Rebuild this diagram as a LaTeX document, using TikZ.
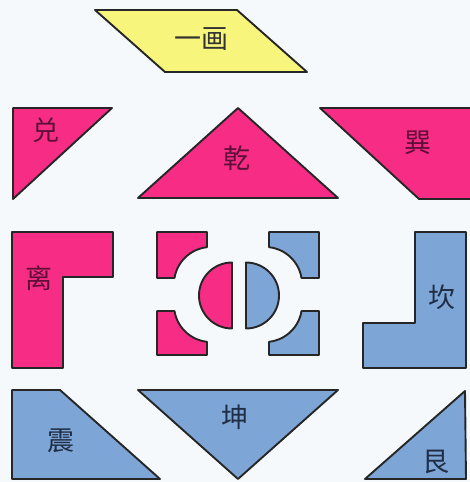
\documentclass[tikz,border=0pt]{standalone}
\usepackage{fontspec}
\newfontfamily\cjk{Noto Sans CJK SC}
\definecolor{bgc}{HTML}{F6F9FB}
\definecolor{pinkc}{HTML}{F72D85}
\definecolor{bluec}{HTML}{7DA5D6}
\definecolor{yelc}{HTML}{F7F57C}
\definecolor{pinktxt}{HTML}{5E0F38}
\definecolor{bluetxt}{HTML}{1F2D45}
\begin{document}
\begin{tikzpicture}[x=1pt,y=1pt,
  shp/.style={draw=black!85, line width=1.9pt, line join=round},
  pk/.style={shp, fill=pinkc},
  bl/.style={shp, fill=bluec},
  yl/.style={shp, fill=yelc},
  lbl/.style={font=\cjk\fontsize{27}{27}\selectfont, inner sep=0pt},
  plbl/.style={lbl, text=pinktxt},
  blbl/.style={lbl, text=bluetxt}]
\fill[bgc] (0,0) rectangle (470,482);
\useasboundingbox (0,0) rectangle (470,482);
% top parallelogram
\draw[yl] (95,472) -- (237,472) -- (307,410) -- (165,410) -- cycle;
\node[lbl, text=black!80] (yihua) at (201,443) {一画};
% row 2
\draw[pk] (13,374) -- (112,374) -- (13,283) -- cycle;
\node[plbl] (dui) at (46,352) {兑};
\draw[pk] (238,374) -- (338,284) -- (138,284) -- cycle;
\node[plbl] (qian) at (237,324) {乾};
\draw[pk] (320,374) -- (474,374) -- (474,283) -- (419,283) -- cycle;
\node[plbl] (xun) at (418,339) {巽};
% row 3
\draw[pk] (12,250) -- (113,250) -- (113,205) -- (63,205) -- (63,114) -- (12,114) -- cycle;
\node[plbl] (li) at (39,204) {离};
\draw[bl] (415,250) -- (466,250) -- (466,114) -- (363,114) -- (363,159) -- (415,159) -- cycle;
\node[blbl] (kan) at (442,185) {坎};
% center pieces
\draw[pk] (157,250) -- (207,250) -- (207,234.8) arc[start angle=96.2, end angle=170.7, radius=37] -- (157,204) -- cycle;
\draw[pk] (157,171) -- (174.5,171) arc[start angle=189.3, end angle=263.8, radius=37] -- (207,127) -- (157,127) -- cycle;
\draw[bl] (319,250) -- (269,250) -- (269,234.8) arc[start angle=83.8, end angle=9.3, radius=37] -- (319,204) -- cycle;
\draw[bl] (269,127) -- (269,140.2) arc[start angle=276.2, end angle=350.7, radius=37] -- (319,171) -- (319,127) -- cycle;
\draw[pk] (232,219.5) arc[start angle=90, end angle=270, radius=33] -- cycle;
\draw[bl] (246,153.5) arc[start angle=-90, end angle=90, radius=33] -- cycle;
% row 4
\draw[bl] (12,92) -- (60,92) -- (160,3) -- (12,3) -- cycle;
\node[blbl] (zhen) at (61,41) {震};
\draw[bl] (138,92) -- (338,92) -- (238,3) -- cycle;
\node[blbl] (kun) at (235,65) {坤};
\draw[bl] (465,91) -- (466,3) -- (365,3) -- cycle;
\node[blbl] (gen) at (436,20) {艮};
\end{tikzpicture}
\end{document}
